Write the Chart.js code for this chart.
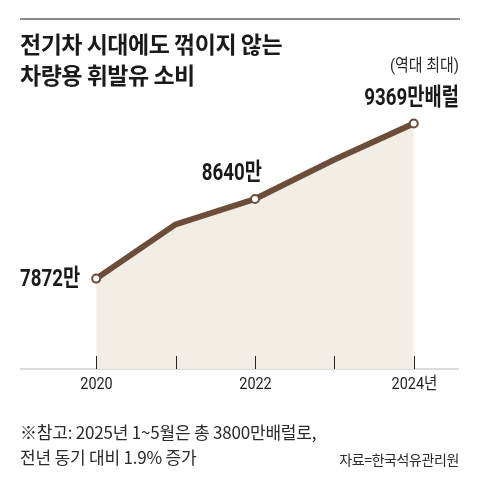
<!DOCTYPE html>
<html>
<head>
<meta charset="utf-8">
<script src="https://cdn.jsdelivr.net/npm/chart.js@4/dist/chart.umd.min.js"></script>
<style>
    body { margin: 0; background: #fff; }
    #wrap { position: relative; width: 480px; height: 492px; overflow: hidden; }
    #chart { position: absolute; left: 0; top: 0; }
    .rule { position: absolute; left: 20px; top: 18px; width: 440px; height: 2px; background: #8c8c8c; }
    .title { position: absolute; left: 20px; top: 28px; font: bold 23px 'Noto Sans CJK KR', sans-serif; line-height: 31px; color: #1a1a1a; letter-spacing: -0.5px; }
    .note { position: absolute; left: 20px; top: 419px; font: 17px 'Noto Sans CJK KR', sans-serif; line-height: 25px; color: #2a2a2a; letter-spacing: -0.2px; }
    .src { position: absolute; right: 21px; top: 449px; font: 14px 'Noto Sans CJK KR', sans-serif; color: #2a2a2a; letter-spacing: -0.4px; }
</style>
</head>
<body>
<div id="wrap">
    <canvas id="chart" width="480" height="492"></canvas>
    <div class="rule"></div>
    <div class="title">전기차 시대에도 꺾이지 않는<br>차량용 휘발유 소비</div>
    <div class="note">※참고: 2025년 1~5월은 총 3800만배럴로,<br>전년 동기 대비 1.9% 증가</div>
    <div class="src">자료=한국석유관리원</div>
</div>
<script>
    const years = [2020, 2021, 2022, 2023, 2024];
    const consumption = [7872, 8395, 8640, 9020, 9369];   // 만배럴
    const tickLabels = {2020: '2020', 2022: '2022', 2024: '2024년'};
    const pointLabels = {0: '7872만', 2: '8640만', 4: '9369만배럴'};

    const font = "Roboto, 'Noto Sans CJK KR', sans-serif";

    // narrow text, the reference uses a condensed face
    function narrowText(ctx, text, x, y, sx, align) {
        ctx.save();
        ctx.translate(x, y);
        ctx.scale(sx, 1);
        ctx.textAlign = align;
        ctx.fillText(text, 0, 0);
        ctx.restore();
    }

    const decor = {
        id: 'decor',
        beforeDatasetsDraw(chart) {
            const ctx = chart.ctx;
            const bottom = chart.chartArea.bottom;
            ctx.save();
            ctx.strokeStyle = '#cfcfcf';
            ctx.lineWidth = 1.5;
            ctx.beginPath();
            ctx.moveTo(chart.chartArea.left, bottom);
            ctx.lineTo(chart.chartArea.right, bottom);
            ctx.stroke();
            ctx.restore();
        },
        afterDatasetsDraw(chart) {
            const ctx = chart.ctx;
            const x = chart.scales.x;
            const bottom = chart.chartArea.bottom;
            ctx.save();
            ctx.strokeStyle = '#222';
            ctx.lineWidth = 1;
            ctx.fillStyle = '#222';
            ctx.textBaseline = 'middle';
            ctx.font = '17px ' + font;
            x.ticks.forEach(t => {
                const px = Math.round(x.getPixelForValue(t.value)) + 0.5;
                ctx.beginPath();
                ctx.moveTo(px, bottom - 13);
                ctx.lineTo(px, bottom);
                ctx.stroke();
                if (tickLabels[t.value]) narrowText(ctx, tickLabels[t.value], px, bottom + 16, 0.85, 'center');
            });

            const pts = chart.getDatasetMeta(0).data;
            ctx.fillStyle = '#1a1a1a';
            ctx.font = 'bold 24px ' + font;
            narrowText(ctx, pointLabels[0], pts[0].x - 16, pts[0].y + 1, 0.78, 'right');
            narrowText(ctx, pointLabels[2], pts[2].x + 7, pts[2].y - 25, 0.78, 'right');
            narrowText(ctx, pointLabels[4], 459, pts[4].y - 24, 0.78, 'right');
            ctx.font = '17px ' + font;
            ctx.fillStyle = '#2a2a2a';
            narrowText(ctx, '(역대 최대)', 459, pts[4].y - 57, 0.88, 'right');
            ctx.restore();
        }
    };

    new Chart(document.getElementById('chart'), {
        type: 'line',
        data: {
            datasets: [{
                data: years.map((y, i) => ({x: y, y: consumption[i]})),
                borderColor: '#6c4d39',
                borderWidth: 6,
                backgroundColor: '#f2ede5',
                fill: 'start',
                tension: 0,
                pointRadius: (c) => (c.dataIndex % 2 === 0 ? 4 : 0),
                pointBorderWidth: 2,
                pointBackgroundColor: '#fff',
                pointBorderColor: '#6c4d39'
            }]
        },
        options: {
            responsive: false,
            animation: false,
            events: [],
            layout: {padding: {left: 20, right: 21, top: 58, bottom: 0}},
            plugins: {legend: {display: false}, tooltip: {enabled: false}},
            scales: {
                x: {
                    type: 'linear',
                    min: 2019.04,
                    max: 2024.57,
                    afterFit: (s) => { s.height = 123; },
                    afterBuildTicks: (s) => { s.ticks = years.map(v => ({value: v})); },
                    border: {display: false},
                    grid: {display: false},
                    ticks: {display: false}
                },
                y: {
                    display: false,
                    min: 7000,
                    max: 10000
                }
            }
        },
        plugins: [decor]
    });
</script>
</body>
</html>
